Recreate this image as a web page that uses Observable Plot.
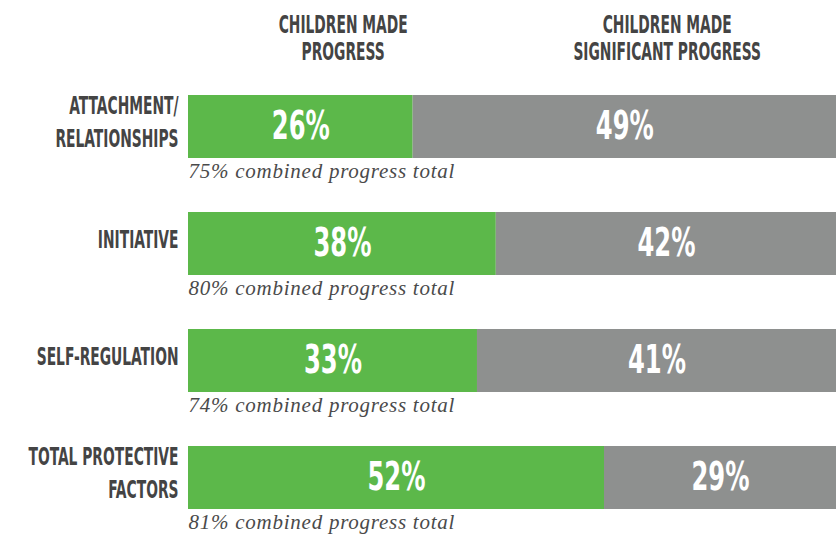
<!DOCTYPE html>
<html>
<head>
<meta charset="utf-8">
<script src="https://cdn.jsdelivr.net/npm/d3@7"></script>
<script src="https://cdn.jsdelivr.net/npm/@observablehq/plot@0.6"></script>
<style>
  html, body { margin: 0; padding: 0; background: #ffffff; }
  #chart { width: 836px; height: 534px; }
</style>
</head>
<body>
<div id="chart"></div>
<script>
// ---- data ----
const categories = ["Attachment/Relationships", "Initiative", "Self-Regulation", "Total Protective Factors"];
const rowLabels = ["ATTACHMENT/\nRELATIONSHIPS", "INITIATIVE", "SELF-REGULATION", "TOTAL PROTECTIVE\nFACTORS"];
const madeProgress = [26, 38, 33, 52];
const significantProgress = [49, 42, 41, 29];
const seriesNames = ["CHILDREN MADE\nPROGRESS", "CHILDREN MADE\nSIGNIFICANT PROGRESS"];
const seriesColors = ["#5cb84a", "#8e908f"];
const captionSuffix = "% combined progress total";

// ---- derived tables ----
const seriesValues = [madeProgress, significantProgress];
const long = categories.flatMap((c, i) =>
  seriesNames.map((s, j) => ({category: c, series: s, value: seriesValues[j][i]}))
);
const rows = categories.map((c, i) => ({
  category: c,
  label: rowLabels[i],
  total: madeProgress[i] + significantProgress[i]
}));
const headers = seriesNames.map((s, j) => ({
  series: s,
  x: d3.mean(categories, (c, i) => {
    const start = j === 0 ? 0 : madeProgress[i];
    return (start + seriesValues[j][i] / 2) / rows[i].total;
  })
}));

const condensed = '"DejaVu Sans Condensed", "Liberation Sans Narrow", "DejaVu Sans", sans-serif';
const ink = "#444444";

const plot = Plot.plot({
  width: 836,
  height: 534,
  marginLeft: 188,
  marginRight: 0,
  marginTop: 0,
  marginBottom: 0,
  x: {domain: [0, 1], axis: null},
  y: {domain: categories, range: [94, 511], paddingInner: 0.46, paddingOuter: 0, axis: null},
  color: {domain: seriesNames, range: seriesColors},
  style: {background: "transparent", overflow: "visible"},
  marks: [
    Plot.barX(long, Plot.stackX({offset: "normalize"}, {
      x: "value", y: "category", fill: "series"
    })),
    Plot.text(long, Plot.stackX({offset: "normalize"}, {
      x: "value", y: "category", text: d => d.value + "%",
      fill: "white", fontSize: 39, fontWeight: "bold", fontFamily: condensed
    })),
    Plot.text(rows, {
      y: "category", text: "label", frameAnchor: "left", textAnchor: "end",
      dx: -10, dy: -7, lineHeight: 1.38,
      fontSize: 24, fontWeight: "bold", fontFamily: condensed, fill: ink
    }),
    Plot.text(rows, {
      y: "category", text: d => d.total + captionSuffix,
      frameAnchor: "left", textAnchor: "start", lineAnchor: "bottom", dy: 51,
      fontFamily: '"Liberation Serif", "DejaVu Serif", serif', fontStyle: "italic",
      fontSize: 21, fill: "#4a4a4a"
    }),
    Plot.text(headers, {
      x: "x", text: "series", frameAnchor: "top", lineAnchor: "middle",
      dy: 37.5, lineHeight: 1.125,
      fontSize: 24, fontWeight: "bold", fontFamily: condensed, fill: ink
    })
  ]
});

document.getElementById("chart").appendChild(plot);

// text mark groups in mark order: values, row labels, captions, headers
const [gValues, gRows, gCaptions, gHeaders] = plot.querySelectorAll('g[aria-label="text"]');
[gValues, gRows, gHeaders].forEach(g => g.style.fontStretch = "condensed");
gCaptions.setAttribute("letter-spacing", "0.75");

// horizontal squeeze (glyph compression) so the display labels take the narrow width of the original face
function lineElements(g) {
  const out = [];
  for (const t of g.querySelectorAll("text")) {
    const spans = t.querySelectorAll("tspan");
    if (spans.length) out.push(...spans); else out.push(t);
  }
  return out;
}
function squeezeGroup(g, k) {
  const els = lineElements(g);
  const lens = els.map(el => el.getComputedTextLength());
  els.forEach((el, i) => {
    el.setAttribute("textLength", (lens[i] * k).toFixed(2));
    el.setAttribute("lengthAdjust", "spacingAndGlyphs");
  });
}
const headerWidth = lineElements(gHeaders)[0].getComputedTextLength(); // "CHILDREN MADE"
const kLabel = 129 / headerWidth;
const valueWidth = lineElements(gValues)[0].getComputedTextLength();   // "26%"
const kValue = 58 / valueWidth;
squeezeGroup(gHeaders, kLabel);
squeezeGroup(gRows, kLabel);
squeezeGroup(gValues, kValue);
</script>
</body>
</html>
